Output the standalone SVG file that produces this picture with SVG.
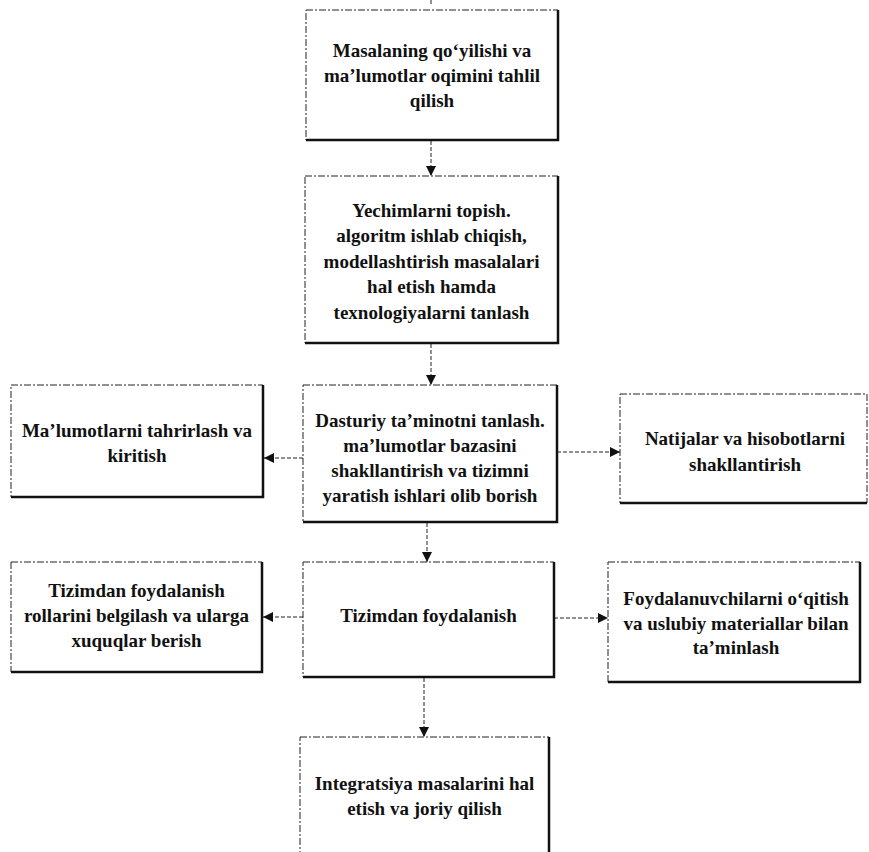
<svg xmlns="http://www.w3.org/2000/svg" width="869" height="852" viewBox="0 0 869 852">
  <style>
    .box { fill: #ffffff; stroke: #222; stroke-width: 1; stroke-dasharray: 7 2 2 2; }
    .edge { fill: none; stroke: #111; stroke-width: 2.5; }
    .lbl { font-family: "Liberation Serif", "Times New Roman", serif; font-weight: bold; font-size: 19px; text-anchor: middle; fill: #111; }
    .conn { fill: none; stroke: #222; stroke-width: 1; stroke-dasharray: 4 2; }
  </style>
  <defs>
    <marker id="arrow" markerUnits="userSpaceOnUse" markerWidth="10" markerHeight="10" refX="10" refY="5" orient="auto">
      <path d="M0,0 L10,5 L0,10 z" fill="#111"/>
    </marker>
  </defs>
  <rect width="869" height="852" fill="#ffffff"/>

  <g id="connectors">
    <line class="conn" x1="431" y1="0" x2="431" y2="4"/>
    <line class="conn" x1="431" y1="141" x2="431" y2="176" marker-end="url(#arrow)"/>
    <line class="conn" x1="431" y1="344" x2="431" y2="385" marker-end="url(#arrow)"/>
    <line class="conn" x1="303" y1="458" x2="264" y2="458" marker-end="url(#arrow)"/>
    <line class="conn" x1="557" y1="452" x2="620" y2="452" marker-end="url(#arrow)"/>
    <line class="conn" x1="427" y1="523" x2="427" y2="562" marker-end="url(#arrow)"/>
    <line class="conn" x1="303" y1="617" x2="263" y2="617" marker-end="url(#arrow)"/>
    <line class="conn" x1="554" y1="618" x2="608" y2="618" marker-end="url(#arrow)"/>
    <line class="conn" x1="424" y1="678" x2="424" y2="737" marker-end="url(#arrow)"/>
  </g>

  <g id="n1">
    <rect class="box" x="306" y="10" width="252" height="130"/>
    <polyline class="edge" points="558,10 558,140 306,140"/>
    <text class="lbl" x="432" y="57">Masalaning qo‘yilishi va</text>
    <text class="lbl" x="432" y="82">ma’lumotlar oqimini tahlil</text>
    <text class="lbl" x="432" y="107">qilish</text>
  </g>

  <g id="n2">
    <rect class="box" x="305" y="176" width="253" height="167"/>
    <polyline class="edge" points="558,176 558,343 305,343"/>
    <text class="lbl" x="431.5" y="217">Yechimlarni topish.</text>
    <text class="lbl" x="431.5" y="242">algoritm ishlab chiqish,</text>
    <text class="lbl" x="431.5" y="268">modellashtirish masalalari</text>
    <text class="lbl" x="431.5" y="293">hal etish hamda</text>
    <text class="lbl" x="431.5" y="319">texnologiyalarni tanlash</text>
  </g>

  <g id="n3-left">
    <rect class="box" x="11" y="385" width="252" height="112"/>
    <polyline class="edge" points="263,385 263,497 11,497"/>
    <text class="lbl" x="137" y="437">Ma’lumotlarni tahrirlash va</text>
    <text class="lbl" x="137" y="462">kiritish</text>
  </g>

  <g id="n3-center">
    <rect class="box" x="303" y="385" width="254" height="137"/>
    <polyline class="edge" points="557,385 557,522 303,522"/>
    <text class="lbl" x="430" y="427">Dasturiy ta’minotni tanlash.</text>
    <text class="lbl" x="430" y="452">ma’lumotlar bazasini</text>
    <text class="lbl" x="430" y="477">shakllantirish va tizimni</text>
    <text class="lbl" x="430" y="502">yaratish ishlari olib borish</text>
  </g>

  <g id="n3-right">
    <rect class="box" x="620" y="394" width="247" height="109"/>
    <polyline class="edge" points="620,503 867,503"/>
    <text class="lbl" x="745" y="445">Natijalar va hisobotlarni</text>
    <text class="lbl" x="745" y="471">shakllantirish</text>
  </g>

  <g id="n4-left">
    <rect class="box" x="11" y="562" width="251" height="110"/>
    <polyline class="edge" points="262,562 262,672 11,672"/>
    <text class="lbl" x="136.5" y="597">Tizimdan foydalanish</text>
    <text class="lbl" x="136.5" y="622">rollarini belgilash va ularga</text>
    <text class="lbl" x="136.5" y="647">xuquqlar berish</text>
  </g>

  <g id="n4-center">
    <rect class="box" x="303" y="562" width="251" height="115"/>
    <polyline class="edge" points="554,562 554,677 303,677"/>
    <text class="lbl" x="428.5" y="622">Tizimdan foydalanish</text>
  </g>

  <g id="n4-right">
    <rect class="box" x="608" y="562" width="252" height="120"/>
    <polyline class="edge" points="860,562 860,682 608,682"/>
    <text class="lbl" x="736" y="605">Foydalanuvchilarni o‘qitish</text>
    <text class="lbl" x="736" y="630">va uslubiy materiallar bilan</text>
    <text class="lbl" x="736" y="654">ta’minlash</text>
  </g>

  <g id="n5">
    <rect class="box" x="300" y="737" width="249" height="130"/>
    <polyline class="edge" points="549,737 549,867"/>
    <text class="lbl" x="424.5" y="790">Integratsiya masalarini hal</text>
    <text class="lbl" x="424.5" y="815">etish va joriy qilish</text>
  </g>
</svg>
